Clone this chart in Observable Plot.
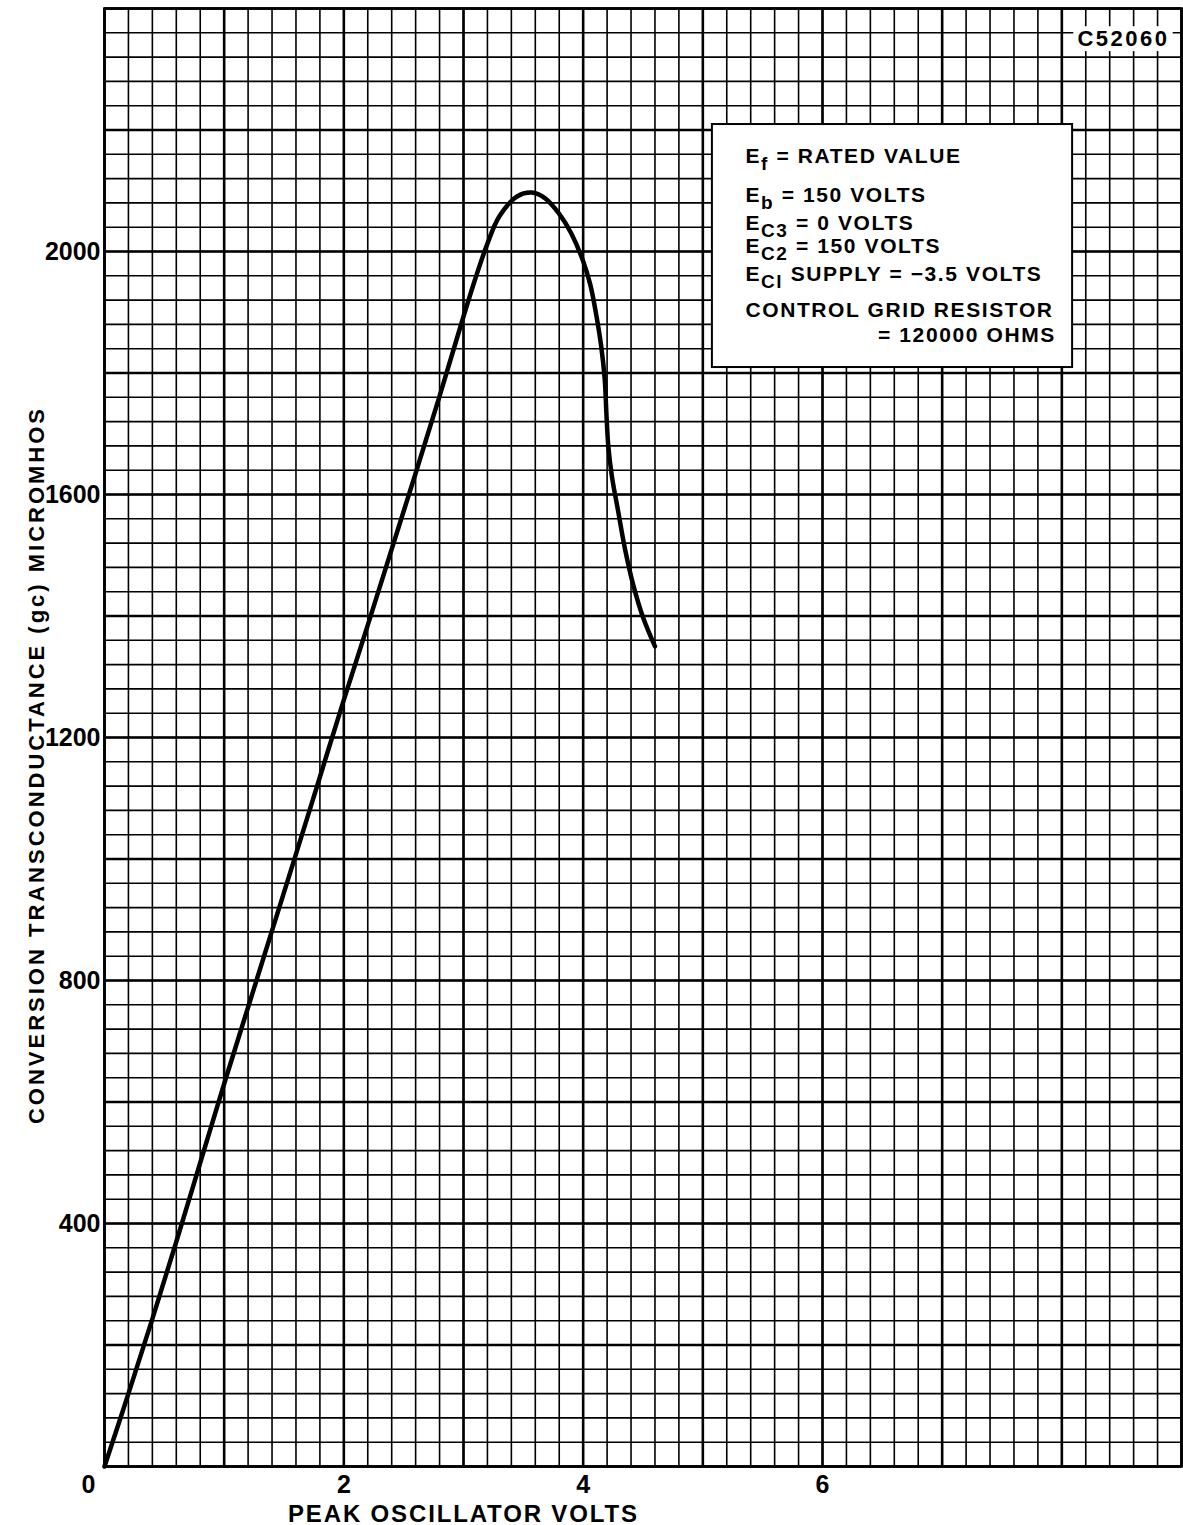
<!DOCTYPE html>
<html><head><meta charset="utf-8">
<script src="https://cdn.jsdelivr.net/npm/d3@7"></script>
<script src="https://cdn.jsdelivr.net/npm/@observablehq/plot@0.6"></script>
<style>
html,body{margin:0;padding:0;background:#fff;}
#chart svg{display:block;}
</style></head><body><div id="chart"></div>
<script>
// ---- data ----
const peakVolts   = [0, 0.2, 0.4, 0.6, 0.8, 1.0, 1.2, 1.4, 1.6, 1.8, 2.0, 2.2, 2.4, 2.6, 2.8, 3.0, 3.1, 3.2, 3.3, 3.45, 3.57, 3.68, 3.8, 3.9, 4.0, 4.06, 4.11, 4.15, 4.18, 4.195, 4.21, 4.24, 4.29, 4.35, 4.42, 4.5, 4.6];
const gcMicromhos = [0, 120, 243, 370, 500, 630, 756, 882, 1008, 1135, 1262, 1385, 1510, 1635, 1762, 1893, 1956, 2013, 2058, 2091, 2097, 2088, 2062, 2030, 1984, 1945, 1895, 1845, 1790, 1730, 1680, 1630, 1575, 1510, 1450, 1398, 1350];
const xTickLabels = [0, 2, 4, 6];
const yTickLabels = [400, 800, 1200, 1600, 2000];
const legendLines = [
  "E_{f} = RATED VALUE",
  "E_{b} = 150 VOLTS",
  "E_{C3} = 0 VOLTS",
  "E_{C2} = 150 VOLTS",
  "E_{Cl} SUPPLY = \u22123.5 VOLTS",
  "CONTROL GRID RESISTOR",
  "= 120000 OHMS"
];
const drawingNumber = "C52060";
const xTitle = "PEAK OSCILLATOR VOLTS";
const yTitle = "CONVERSION TRANSCONDUCTANCE (gc) MICROMHOS";

// ---- layout ----
const xDomain = [0, 9], yDomain = [0, 2400];
const xMinor = d3.range(0, 46).map(i => i / 5);
const xMajor = d3.range(0, 10);
const yMinor = d3.range(0, 61).map(i => i * 40);
const yMajor = d3.range(0, 13).map(i => i * 200);
const legendBox = {x1: 5.08, x2: 8.09, y1: 1809, y2: 2209};
const legendX = 5.356, legendRightX = 7.95;
const legendLineY = [2146, 2082, 2036, 1998, 1952, 1893, 1851];
const tagBox = {x1: 8.1, x2: 8.93, y1: 2329, y2: 2370};

const curve = peakVolts.map((x, i) => ({x, y: gcMicromhos[i]}));

const plot = Plot.plot({
  width: 1183, height: 1525,
  marginLeft: 104, marginRight: 2, marginTop: 8, marginBottom: 59,
  x: {domain: xDomain, axis: null},
  y: {domain: yDomain, axis: null},
  style: {fontFamily: "'Liberation Sans', Arial, sans-serif", fontWeight: "bold", color: "black", background: "white"},
  marks: [
    Plot.ruleX(xMinor, {stroke: "black", strokeWidth: 1.6}),
    Plot.ruleY(yMinor, {stroke: "black", strokeWidth: 1.6}),
    Plot.ruleX(xMajor, {stroke: "black", strokeWidth: 2.6}),
    Plot.ruleY(yMajor, {stroke: "black", strokeWidth: 2.6}),
    Plot.frame({stroke: "black", strokeWidth: 2.6}),
    Plot.line(curve, {x: "x", y: "y", curve: "catmull-rom", stroke: "black", strokeWidth: 4.5}),
    Plot.rect([legendBox], {x1: "x1", x2: "x2", y1: "y1", y2: "y2", fill: "white", stroke: "black", strokeWidth: 2}),
    Plot.text(legendLines.slice(0, 6), {x: legendX, y: (d, i) => legendLineY[i], text: d => d, textAnchor: "start", lineAnchor: "bottom", fontSize: 21, fill: "black"}),
    Plot.text(legendLines.slice(6), {x: legendRightX, y: legendLineY[6], text: d => d, textAnchor: "end", lineAnchor: "bottom", fontSize: 21, fill: "black"}),
    Plot.rect([tagBox], {x1: "x1", x2: "x2", y1: "y1", y2: "y2", fill: "white"}),
    Plot.text([drawingNumber], {x: (tagBox.x1 + tagBox.x2) / 2, y: (tagBox.y1 + tagBox.y2) / 2, text: d => d, fontSize: 22, fill: "black"}),
    Plot.axisX({ticks: xTickLabels.filter(d => d !== 0), tickSize: 0, tickPadding: 9, fontSize: 25, tickFormat: d => String(d), label: null}),
    Plot.axisX({ticks: xTickLabels.filter(d => d === 0), tickSize: 0, tickPadding: 9, fontSize: 25, dx: -16, tickFormat: d => String(d), label: null}),
    Plot.axisY({ticks: yTickLabels, tickSize: 0, tickPadding: 4, fontSize: 25, tickFormat: d => String(d), label: null}),
    Plot.text([xTitle], {frameAnchor: "bottom-left", dx: 358, dy: 55, text: d => d, textAnchor: "middle", lineAnchor: "bottom", fontSize: 24, fill: "black"}),
    Plot.text([yTitle], {frameAnchor: "left", rotate: -90, dx: -68, dy: 29, text: d => d, textAnchor: "middle", lineAnchor: "middle", fontSize: 22, fill: "black"})
  ]
});

// subscripts and letter spacing
const ns = "http://www.w3.org/2000/svg";
plot.querySelectorAll("text").forEach(t => {
  const s = t.textContent;
  if (legendLines.includes(s)) t.setAttribute("letter-spacing", "1.6");
  if (s === drawingNumber) t.setAttribute("letter-spacing", "2.5");
  if (s === xTitle) { t.setAttribute("textLength", "349"); t.setAttribute("lengthAdjust", "spacing"); }
  if (s === yTitle) { t.setAttribute("textLength", "715"); t.setAttribute("lengthAdjust", "spacing"); }
  const m = s.match(/^(.*?)_\{(.*?)\}(.*)$/);
  if (!m) return;
  t.textContent = "";
  const a = document.createElementNS(ns, "tspan"); a.textContent = m[1]; t.appendChild(a);
  const b = document.createElementNS(ns, "tspan"); b.textContent = m[2]; b.setAttribute("dy", "7"); b.setAttribute("font-size", "19"); t.appendChild(b);
  const c = document.createElementNS(ns, "tspan"); c.textContent = m[3]; c.setAttribute("dy", "-7"); t.appendChild(c);
});
document.getElementById("chart").appendChild(plot);
</script>
</body></html>
